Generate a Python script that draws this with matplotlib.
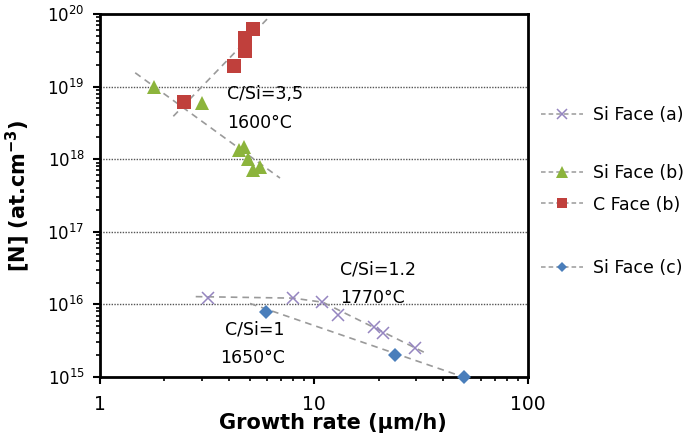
import numpy as np
import matplotlib.pyplot as plt
from matplotlib.lines import Line2D
from matplotlib.ticker import LogLocator, NullFormatter

plt.rcParams["font.family"] = ["DejaVu Sans"]

# Si Face (a): C/Si=1.2, 1770°C
rate_a = [3.2, 7.95, 10.9, 12.9, 19.1, 21.1, 29.6]
n_a = [1.21e16, 1.21e16, 1.09e16, 7.1e15, 4.9e15, 4.07e15, 2.54e15]
trend_a_x = [2.8, 8.0, 11.0, 33.6]
trend_a_y = [1.28e16, 1.22e16, 1.07e16, 2.1e15]

# Si Face (b): C/Si=3,5, 1600°C
rate_b_si = [1.79, 2.98, 4.48, 4.73, 4.93, 5.17, 5.59]
n_b_si = [9.8e18, 5.9e18, 1.34e18, 1.49e18, 1.0e18, 7.1e17, 7.9e17]
trend_b_si_x = [1.46, 6.93]
trend_b_si_y = [1.55e19, 5.5e17]

# C Face (b)
rate_b_c = [2.47, 4.23, 4.76, 4.76, 5.19]
n_b_c = [6.2e18, 1.95e19, 3.1e19, 4.7e19, 6.3e19]
trend_b_c_x = [2.2, 6.23]
trend_b_c_y = [3.9e18, 9.4e19]

# Si Face (c): C/Si=1, 1650°C
rate_c = [5.97, 23.9, 49.9]
n_c = [7.9e15, 2.0e15, 1.0e15]
trend_c_x = [5.02, 49.9]
trend_c_y = [1.03e16, 1.0e15]

purple = "#9585c0"
green = "#8cb43c"
red = "#c0403c"
blue = "#4a7ebb"
grey = "#9a9a9a"

fig = plt.figure(figsize=(6.85, 4.46), dpi=100)
ax = fig.add_axes([0.146, 0.1547, 0.625, 0.8139])

dash = dict(color=grey, linestyle=(0, (4, 3)), linewidth=1.2, zorder=2)
ax.plot(trend_a_x, trend_a_y, **dash)
ax.plot(trend_b_si_x, trend_b_si_y, **dash)
ax.plot(trend_b_c_x, trend_b_c_y, **dash)
ax.plot(trend_c_x, trend_c_y, **dash)

ax.plot(rate_a, n_a, "x", color=purple, markersize=9, markeredgewidth=1.1, zorder=3)
ax.plot(rate_b_si, n_b_si, "^", color=green, markersize=10, markeredgewidth=0, zorder=3)
ax.plot(rate_b_c, n_b_c, "s", color=red, markersize=10, markeredgewidth=0, zorder=3)
ax.plot(rate_c, n_c, "D", color=blue, markersize=7, markeredgewidth=0, zorder=3, clip_on=False)

ax.set_xscale("log")
ax.set_yscale("log")
ax.set_xlim(1, 100)
ax.set_ylim(1e15, 1e20)

for v in [1e16, 1e17, 1e18, 1e19]:
    ax.axhline(v, color="#555555", linestyle=(0, (1, 1)), linewidth=1.0, zorder=1)

ax.xaxis.set_minor_locator(LogLocator(base=10, subs=np.arange(2, 10)))
ax.yaxis.set_minor_locator(LogLocator(base=10, subs=np.arange(2, 10)))
ax.xaxis.set_minor_formatter(NullFormatter())
ax.yaxis.set_minor_formatter(NullFormatter())
ax.set_xticks([1, 10, 100])
ax.set_xticklabels(["1", "10", "100"])
ax.set_yticks([1e15, 1e16, 1e17, 1e18, 1e19, 1e20])
ax.set_yticklabels([r"10$^{%d}$" % e for e in range(15, 21)])
ax.tick_params(which="major", direction="out", length=5, width=1.5)
ax.tick_params(axis="x", which="major", pad=8, labelsize=13.5)
ax.tick_params(axis="y", which="major", pad=6, labelsize=12)
ax.tick_params(which="minor", direction="out", length=3, width=1.2)

for s in ax.spines.values():
    s.set_linewidth(2)
    s.set_color("black")

ax.set_xlabel("Growth rate (µm/h)", fontsize=15, fontweight="bold")
ax.xaxis.set_label_coords(0.544, -0.1)
ax.set_ylabel(r"[N] (at.cm$^{\mathbf{-3}}$)", fontsize=15, fontweight="bold")
ax.yaxis.set_label_coords(-0.16, 0.5)

note = dict(fontsize=12.5, va="top", linespacing=1.75)
ax.text(3.92, 1.05e19, "C/Si=3,5\n1600°C", ha="left", **note)
ax.text(13.2, 4.0e16, "C/Si=1.2\n1770°C", ha="left", **note)
ax.text(7.3, 6.0e15, "C/Si=1\n1650°C", ha="right", **note)

def handle(marker, color, ms, mew=0):
    return Line2D([], [], color=grey, linestyle=(0, (3, 2)), linewidth=1.1,
                  marker=marker, markerfacecolor=color, markeredgecolor=color,
                  markersize=ms, markeredgewidth=mew)

leg_kw = dict(frameon=False, fontsize=12.5, handlelength=2.4, handletextpad=0.6,
              loc="center left", borderaxespad=0, borderpad=0)
l1 = fig.legend([handle("x", purple, 7, 1.1)], ["Si Face (a)"],
                bbox_to_anchor=(541 / 685, 1 - 115 / 446), **leg_kw)
l2 = fig.legend([handle("^", green, 8), handle("s", red, 7)], ["Si Face (b)", "C Face (b)"],
                bbox_to_anchor=(541 / 685, 1 - 189 / 446), labelspacing=0.75, **leg_kw)
l3 = fig.legend([handle("D", blue, 5.5)], ["Si Face (c)"],
                bbox_to_anchor=(541 / 685, 1 - 268 / 446), **leg_kw)

fig.savefig("out.png", dpi=100)
